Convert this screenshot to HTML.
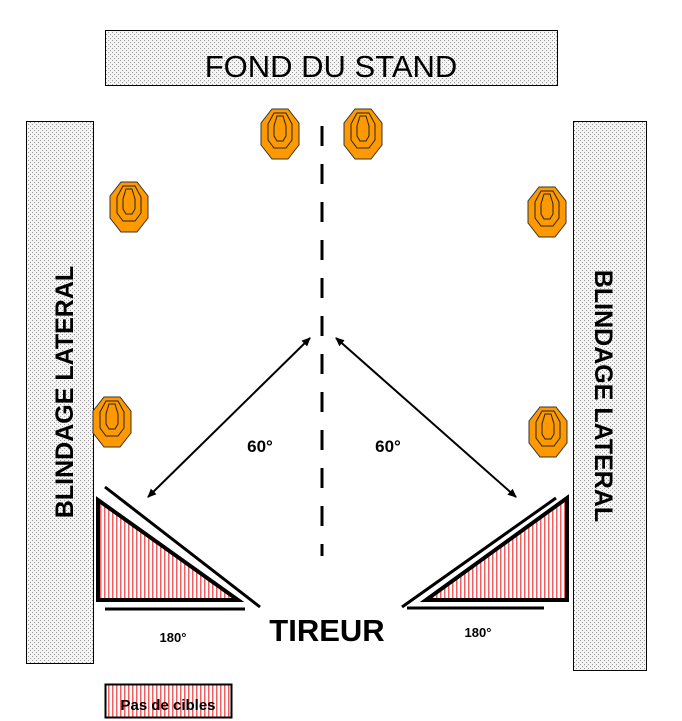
<!DOCTYPE html>
<html><head><meta charset="utf-8"><style>
html,body{margin:0;padding:0;background:#fff;}
svg{display:block;}
text{font-family:"Liberation Sans","DejaVu Sans",sans-serif;}
</style></head><body>
<svg width="682" height="721" viewBox="0 0 682 721" xmlns="http://www.w3.org/2000/svg">
<defs>
<pattern id="dots" width="4" height="4" patternUnits="userSpaceOnUse">
<rect width="4" height="4" fill="#f4f4f4"/>
<rect x="0" y="0" width="1" height="1" fill="#999"/>
<rect x="2" y="2" width="1" height="1" fill="#999"/>
</pattern>
<pattern id="stripes" width="4" height="4" patternUnits="userSpaceOnUse">
<rect width="4" height="4" fill="#fff"/>
<rect x="0" y="0" width="1.5" height="4" fill="#f06060"/>
</pattern>
<marker id="ah" markerWidth="10" markerHeight="10" refX="8" refY="5" orient="auto-start-reverse" markerUnits="userSpaceOnUse">
<path d="M0,1 L9,5 L0,9 z" fill="#000"/>
</marker>
<g id="tg">
<polygon points="11,0 27,0 38,14 38,36 27,50 11,50 0,36 0,14" fill="#ff9900" stroke="#333" stroke-width="1"/>
<path d="M13,4 L25,4 L31,15 L31,31 L25,39 L13,39 L7,31 L7,15 Z" fill="none" stroke="#222" stroke-width="1"/>
<path d="M16,7 L22,7 L25,17 L25,27 L22,32 L16,32 L13,27 L13,17 Z" fill="none" stroke="#222" stroke-width="1"/>
</g>
</defs>
<rect x="105.5" y="30.5" width="452" height="55" fill="url(#dots)" stroke="#000"/>
<text x="331" y="77" font-size="31" text-anchor="middle">FOND DU STAND</text>
<rect x="26.5" y="121.5" width="67" height="542" fill="url(#dots)" stroke="#000"/>
<text transform="translate(73,392) rotate(-90)" font-size="25" font-weight="bold" text-anchor="middle">BLINDAGE LATERAL</text>
<rect x="573.5" y="121.5" width="73" height="549" fill="url(#dots)" stroke="#000"/>
<text transform="translate(595,396) rotate(90)" font-size="25" font-weight="bold" text-anchor="middle">BLINDAGE LATERAL</text>
<use href="#tg" x="261" y="109"/>
<use href="#tg" x="344" y="109"/>
<use href="#tg" x="110" y="182"/>
<use href="#tg" x="93" y="397"/>
<use href="#tg" x="528" y="187"/>
<use href="#tg" x="529" y="407"/>
<line x1="322" y1="126" x2="322" y2="556" stroke="#000" stroke-width="3" stroke-dasharray="20 18"/>
<line x1="310" y1="338" x2="148" y2="497" stroke="#000" stroke-width="2" marker-start="url(#ah)" marker-end="url(#ah)"/>
<line x1="336" y1="338" x2="516" y2="497" stroke="#000" stroke-width="2" marker-start="url(#ah)" marker-end="url(#ah)"/>
<text x="260" y="452" font-size="17" font-weight="bold" text-anchor="middle">60°</text>
<text x="388" y="452" font-size="17" font-weight="bold" text-anchor="middle">60°</text>
<polygon points="98,500 98,600 238,600" fill="url(#stripes)" stroke="#000" stroke-width="4" stroke-linejoin="miter"/>
<line x1="105" y1="487" x2="260" y2="607" stroke="#000" stroke-width="3"/>
<line x1="105" y1="609" x2="245" y2="609" stroke="#000" stroke-width="3"/>
<polygon points="567,498 567,600 426,600" fill="url(#stripes)" stroke="#000" stroke-width="4"/>
<line x1="556" y1="498" x2="402" y2="607" stroke="#000" stroke-width="3"/>
<line x1="407" y1="608" x2="544" y2="608" stroke="#000" stroke-width="3"/>
<text x="173" y="642" font-size="13" font-weight="bold" text-anchor="middle">180°</text>
<text x="478" y="637" font-size="13" font-weight="bold" text-anchor="middle">180°</text>
<text x="327" y="641" font-size="31" font-weight="bold" text-anchor="middle">TIREUR</text>
<rect x="105.5" y="684.5" width="126" height="33" fill="url(#stripes)" stroke="#000" stroke-width="2"/>
<text x="168" y="710" font-size="15" font-weight="bold" text-anchor="middle">Pas de cibles</text>
</svg>
</body></html>
